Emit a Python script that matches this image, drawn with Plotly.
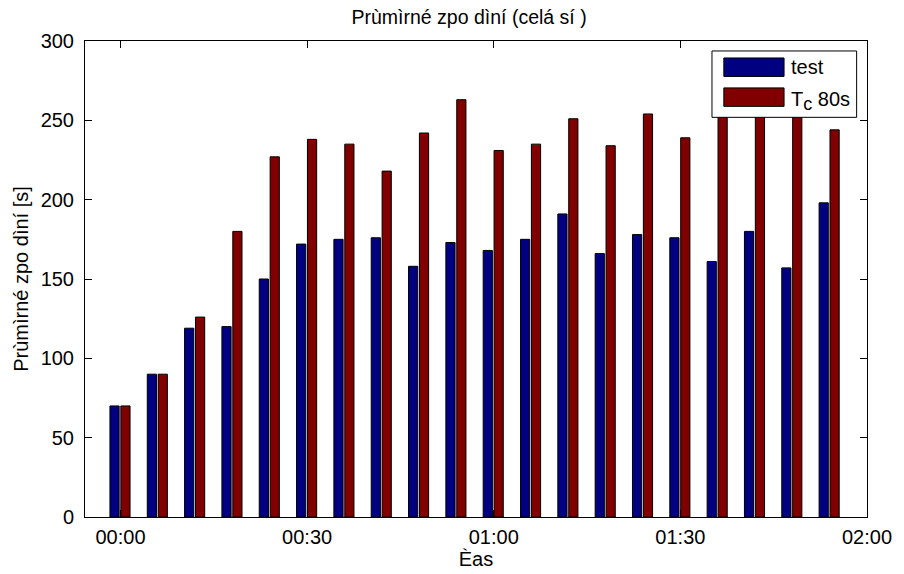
import plotly.graph_objects as go

minutes = [0, 6, 12, 18, 24, 30, 36, 42, 48, 54, 60, 66, 72, 78, 84, 90, 96, 102, 108, 114]
test_vals = [70, 90, 119, 120, 150, 172, 175, 176, 158, 173, 168, 175, 191, 166, 178, 176, 161, 180, 157, 198]
tc80_vals = [70, 90, 126, 180, 227, 238, 235, 218, 242, 263, 231, 235, 251, 234, 254, 239, 258, 264, 257, 244]
tick_vals = [0, 30, 60, 90, 120]
tick_text = ["00:00", "00:30", "01:00", "01:30", "02:00"]

BLUE = "#000080"
RED = "#800000"
FONT = "Liberation Sans, Arial, sans-serif"
FS = 20

fig = go.Figure()
fig.add_trace(go.Bar(x=minutes, y=test_vals, name="test", width=1.48, offset=-1.7,
                     marker=dict(color=BLUE, line=dict(color="black", width=1))))
fig.add_trace(go.Bar(x=minutes, y=tc80_vals, name="T<sub>c</sub> 80s", width=1.48, offset=0.05,
                     marker=dict(color=RED, line=dict(color="black", width=1))))

axis_common = dict(showline=True, linecolor="black", linewidth=1, mirror="ticks",
                   ticks="inside", ticklen=7, tickcolor="black", showgrid=False,
                   zeroline=False, tickfont=dict(size=FS, color="black", family=FONT))

# plot area in pixels
L, R, T, B = 85, 877, 41, 518
W, H = 904, 574

fig.update_layout(
    width=W, height=H,
    margin=dict(l=L, r=W - R, t=T, b=H - B),
    paper_bgcolor="white", plot_bgcolor="white",
    barmode="overlay", showlegend=False,
    font=dict(family=FONT, color="black", size=FS),
    title=dict(text="Prùmìrné zpo dìní (celá sí )", xref="paper", x=(474 - L) / (R - L),
               xanchor="center", yref="container", y=1 - 17 / H, yanchor="middle",
               font=dict(size=19.5)),
    xaxis=dict(range=[-5.71, 120], tickvals=tick_vals, ticktext=tick_text,
               ticklabelstandoff=2,
               title=dict(text="Èas", standoff=0, font=dict(size=FS)), **axis_common),
    yaxis=dict(range=[0, 300], tickvals=[0, 50, 100, 150, 200, 250, 300],
               ticklabelstandoff=6,
               title=dict(text="Prùmìrné zpo dìní [s]", standoff=6, font=dict(size=FS)),
               **axis_common),
)

# manual MATLAB-style legend (plot-area paper coordinates)
def px(x):
    return (x - L) / (R - L)
def py(y):
    return (B - y) / (B - T)

shapes = [
    dict(type="rect", xref="paper", yref="paper", x0=px(720), x1=px(866.5), y0=py(117.5), y1=py(51),
         fillcolor="white", line=dict(color="black", width=1), layer="above"),
    dict(type="rect", xref="paper", yref="paper", x0=px(732), x1=px(793), y0=py(76.5), y1=py(58),
         fillcolor=BLUE, line=dict(color="black", width=1), layer="above"),
    dict(type="rect", xref="paper", yref="paper", x0=px(732), x1=px(793), y0=py(106.5), y1=py(88),
         fillcolor=RED, line=dict(color="black", width=1), layer="above"),
]
annotations = [
    dict(xref="paper", yref="paper", x=px(798), y=py(67), text="test", showarrow=False,
         xanchor="left", yanchor="middle", font=dict(size=FS, family=FONT, color="black")),
    dict(xref="paper", yref="paper", x=px(798), y=py(101),
         text='T<sub><span style="font-size:18px">c</span></sub> 80s', showarrow=False,
         xanchor="left", yanchor="middle", font=dict(size=FS, family=FONT, color="black")),
]
fig.update_layout(shapes=shapes, annotations=annotations)

fig.write_html("out.html")
